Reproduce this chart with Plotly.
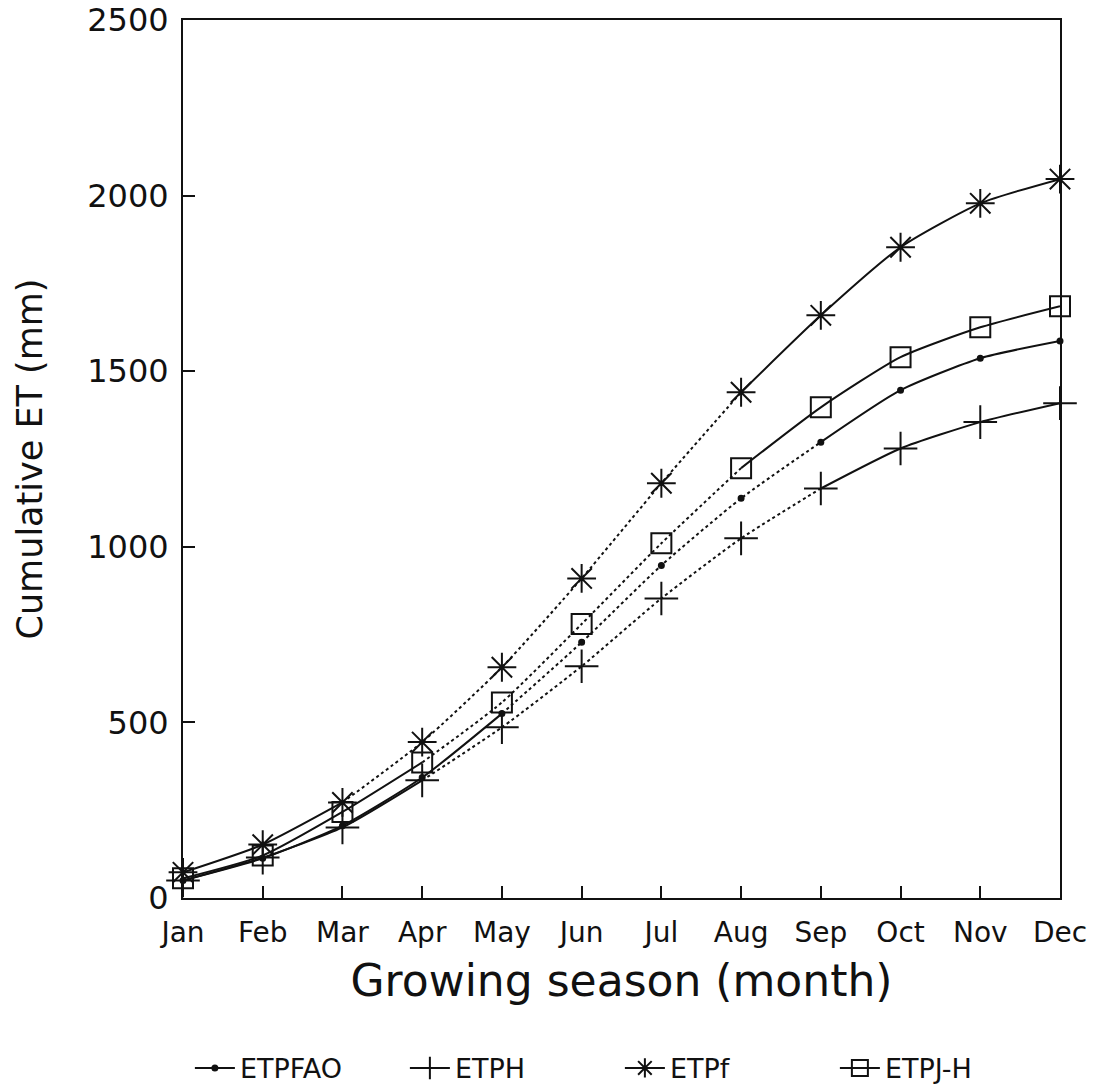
import plotly.graph_objects as go

# Monthly cumulative evapotranspiration (mm) for four estimation methods
months = ["Jan", "Feb", "Mar", "Apr", "May", "Jun",
          "Jul", "Aug", "Sep", "Oct", "Nov", "Dec"]
etp_fao = [50, 113, 206, 343, 525, 728, 947, 1138, 1298, 1446, 1537, 1586]
etp_h = [50, 115, 201, 335, 486, 660, 853, 1024, 1166, 1280, 1355, 1409]
etp_f = [73, 152, 272, 444, 657, 910, 1181, 1440, 1659, 1853, 1978, 2047]
etp_jh = [56, 121, 245, 386, 557, 780, 1010, 1224, 1397, 1540, 1625, 1685]

y_ticks = [0, 500, 1000, 1500, 2000, 2500]

FONT = "DejaVu Sans"
INK = "#111111"

x_idx = list(range(len(months)))

# (name, values, marker symbol, marker size, dotted stretch [start, end])
series = [
    ("ETPFAO", etp_fao, "circle", 5, (4, 8)),
    ("ETPH", etp_h, "cross-thin-open", 24, (3, 8)),
    ("ETPf", etp_f, "asterisk-open", 24, (2, 7)),
    ("ETPJ-H", etp_jh, "square-open", 20, (3, 7)),
]

fig = go.Figure()

for name, vals, sym, size, (d0, d1) in series:
    # line pieces: solid, dotted middle stretch, solid
    pieces = [(0, d0, "solid"), (d0, d1, "dot"), (d1, len(vals) - 1, "solid")]
    for a, b, dash in pieces:
        if b <= a:
            continue
        fig.add_trace(go.Scatter(
            x=x_idx[a:b + 1], y=vals[a:b + 1], mode="lines",
            line=dict(color=INK, width=2, dash=dash, shape="spline", smoothing=0.6),
            showlegend=False, hoverinfo="skip", cliponaxis=False,
        ))
    fig.add_trace(go.Scatter(
        x=x_idx, y=vals, mode="markers", name=name, showlegend=False,
        cliponaxis=False,
        marker=dict(symbol=sym, size=size, color=INK,
                    line=dict(color=INK, width=2)),
    ))

# legend entries
for name, vals, sym, size, _ in series:
    fig.add_trace(go.Scatter(
        x=[None], y=[None], mode="lines+markers", name=name,
        line=dict(color=INK, width=2),
        marker=dict(symbol=sym, size=min(size, 18), color=INK,
                    line=dict(color=INK, width=2)),
    ))

fig.update_layout(
    width=1104, height=1088,
    margin=dict(l=183, r=44, t=20, b=190, autoexpand=False),
    paper_bgcolor="white", plot_bgcolor="white",
    font=dict(family=FONT, color=INK),
    showlegend=True,
    legend=dict(orientation="h", xref="container", x=0.172, xanchor="left",
                yref="container", y=0.018, yanchor="middle",
                font=dict(size=27, family=FONT), itemwidth=40,
                entrywidth=160, entrywidthmode="pixels",
                tracegroupgap=0),
)

fig.update_xaxes(
    range=[0, len(months) - 1], automargin=False,
    tickmode="array", tickvals=x_idx, ticktext=months,
    ticks="inside", ticklen=12, tickwidth=2, tickcolor=INK,
    ticklabelstandoff=8,
    showline=True, linecolor=INK, linewidth=2, mirror=True,
    showgrid=False, zeroline=False,
    tickfont=dict(size=28, family=FONT),
    title=dict(text="Growing season (month)", font=dict(size=44, family=FONT), standoff=18),
)

fig.update_yaxes(
    range=[0, 2500], automargin=False,
    tickmode="array", tickvals=y_ticks,
    ticks="inside", ticklen=12, tickwidth=2, tickcolor=INK,
    ticklabelstandoff=6,
    showline=True, linecolor=INK, linewidth=2, mirror=True,
    showgrid=False, zeroline=False,
    tickfont=dict(size=32, family=FONT),
    title=dict(text="Cumulative ET (mm)", font=dict(size=35, family=FONT), standoff=34),
)

fig.write_html("out.html")
